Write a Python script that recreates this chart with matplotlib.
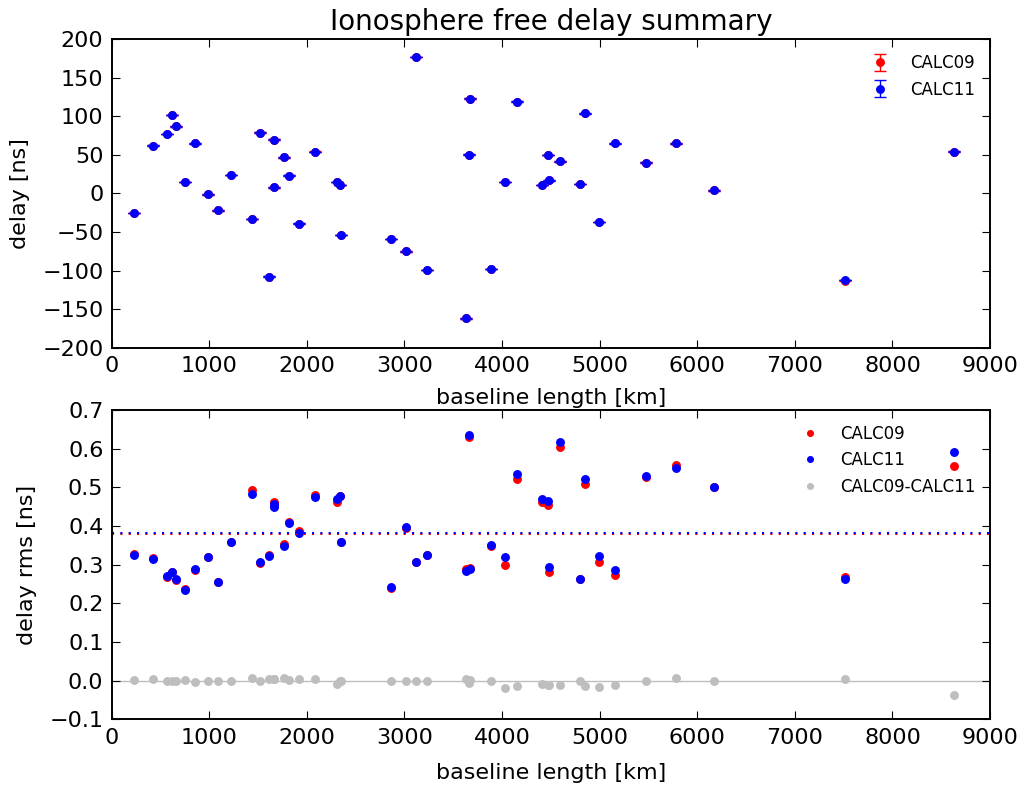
import numpy as np
import matplotlib
matplotlib.use("Agg")
import matplotlib.pyplot as plt

# baseline lengths [km] and per-baseline results
baseline = [230, 420, 567, 615, 656, 755, 851, 984, 1090, 1220,
            1438, 1517, 1616, 1660, 1667, 1763, 1821, 1923, 2081, 2309,
            2340, 2347, 2863, 3017, 3116, 3235, 3632, 3659, 3669, 3891,
            4028, 4151, 4407, 4475, 4478, 4592, 4800, 4851, 4988, 5156,
            5470, 5781, 6167, 7516, 8630]

delay11 = [-25, 62, 77, 102, 87, 15, 65, -1, -22, 24,
           -33, 79, -108, 70, 8, 47, 23, -39, 54, 15,
           11, -54, -59, -75, 177, -99, -162, 50, 123, -98,
           15, 119, 11, 50, 17, 42, 12, 104, -37, 65,
           40, 65, 4, -112, 54]
delay09 = [-25, 62, 77, 102, 87, 15, 65, -1, -22, 24,
           -33, 79, -108, 70, 8, 47, 23, -39, 54, 15,
           11, -54, -59, -75, 177, -99, -162, 50, 123, -98,
           15, 119, 11, 50, 17, 42, 12, 104, -37, 65,
           40, 65, 4, -113, 54]

rms11 = [0.326, 0.315, 0.270, 0.281, 0.263, 0.235, 0.290, 0.319, 0.255, 0.359,
         0.484, 0.307, 0.322, 0.450, 0.457, 0.347, 0.408, 0.381, 0.475, 0.471,
         0.478, 0.359, 0.241, 0.397, 0.307, 0.326, 0.283, 0.635, 0.290, 0.351,
         0.320, 0.535, 0.471, 0.465, 0.293, 0.616, 0.263, 0.521, 0.323, 0.286,
         0.528, 0.551, 0.501, 0.264, 0.591]
rms09 = [0.327, 0.318, 0.269, 0.281, 0.261, 0.236, 0.286, 0.319, 0.255, 0.359,
         0.492, 0.305, 0.326, 0.455, 0.462, 0.354, 0.410, 0.386, 0.480, 0.462,
         0.478, 0.359, 0.239, 0.395, 0.307, 0.325, 0.288, 0.630, 0.292, 0.349,
         0.300, 0.521, 0.462, 0.454, 0.281, 0.604, 0.263, 0.508, 0.306, 0.274,
         0.526, 0.559, 0.501, 0.267, 0.555]

GRAY = "#BEBEBE"
MS = 5.4

plt.rcParams["font.family"] = ["DejaVu Sans"]
plt.rcParams["font.size"] = 16

fig = plt.figure(figsize=(10.25, 7.88), dpi=100, facecolor="white")
ax1 = fig.add_axes([0.109, 0.5588, 0.8569, 0.3913])
ax2 = fig.add_axes([0.109, 0.0872, 0.8569, 0.3925])

# ── top: delay with error bars ───────────────────────────────────────────────
ax1.errorbar(baseline, delay09, yerr=rms09, fmt="o", color="red", mec="red",
             ms=MS, capsize=4, elinewidth=1, capthick=1, label="CALC09")
ax1.errorbar(baseline, delay11, yerr=rms11, fmt="o", color="blue", mec="blue",
             ms=MS, capsize=4, elinewidth=1, capthick=1, label="CALC11")
ax1.set_title("Ionosphere free delay summary", fontsize=20, pad=7)
ax1.set_xlabel("baseline length [km]", labelpad=9)
ax1.set_ylabel("delay [ns]", labelpad=9)
ax1.set_xlim(0, 9000)
ax1.set_ylim(-200, 200)
ax1.set_yticks(np.arange(-200, 201, 50))
ax1.legend(loc="upper right", frameon=False, fontsize=12, numpoints=1)

# ── bottom: delay rms ────────────────────────────────────────────────────────
r09 = np.array(rms09)
r11 = np.array(rms11)
ax2.axhline(0, color=GRAY, lw=1, zorder=1)
ax2.plot(baseline, r09, "o", color="red", mec="red", ms=MS, label="CALC09")
ax2.plot(baseline, r11, "o", color="blue", mec="blue", ms=MS, label="CALC11")
ax2.plot(baseline, r09 - r11, "o", color=GRAY, mec=GRAY, ms=MS,
         label="CALC09-CALC11")
ax2.axhline(r09.mean(), color="red", lw=1.5, ls=(0, (1, 3)))
ax2.axhline(r11.mean(), color="blue", lw=1.5, ls=(0, (1, 3)))
ax2.set_xlabel("baseline length [km]", labelpad=11)
ax2.set_ylabel("delay rms [ns]", labelpad=9)
ax2.set_xlim(0, 9000)
ax2.set_ylim(-0.1, 0.7)
ax2.set_yticks(np.arange(-0.1, 0.71, 0.1))
ax2.legend(loc="upper right", frameon=False, fontsize=12, numpoints=1,
           markerscale=0.75)

for ax in (ax1, ax2):
    ax.set_xticks(np.arange(0, 9001, 1000))
    ax.tick_params(direction="in", top=True, right=True, length=6, width=0.8,
                   pad=6, labelsize=16)
    for s in ax.spines.values():
        s.set_linewidth(1.4)

fig.savefig("out.png", dpi=100, facecolor="white")
